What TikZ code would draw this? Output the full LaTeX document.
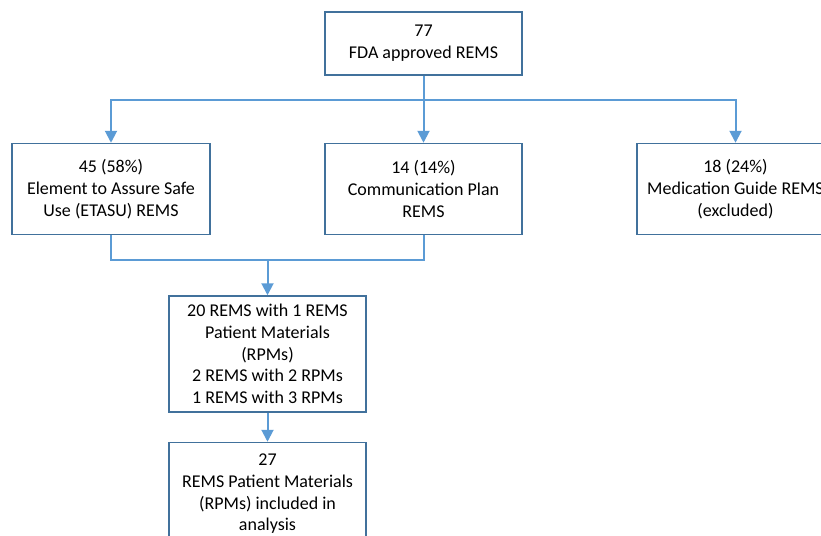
\documentclass[tikz,border=0pt]{standalone}
\usepackage{fontspec}
\setmainfont{Carlito}
\usepackage{tikz}
\usetikzlibrary{arrows.meta,positioning,calc}
\definecolor{boxline}{HTML}{41719C}
\definecolor{linkline}{HTML}{5B9BD5}
\tikzset{
remsbox/.style={draw=boxline,line width=1.5pt,fill=white,align=center,inner sep=0pt,
  minimum width=197pt,font=\fontsize{18}{21.7}\selectfont},
link/.style={draw=linkline,line width=2pt},
arrowlink/.style={link,-{Triangle[width=12pt,length=12pt]}}
}
\begin{document}
\begin{tikzpicture}[x=1pt,y=-1pt]
\useasboundingbox (0,0) rectangle (821,535);
\node[remsbox,minimum height=63pt] (fda) at (423.5,43.5) {77\\FDA approved REMS};
\node[remsbox,minimum height=91pt,minimum width=198pt] (etasu) at (111,189) {45 (58\%)\\Element to Assure Safe\\Use (ETASU) REMS};
\node[remsbox,minimum height=91pt] (comm) at (423.5,189) {14 (14\%)\\Communication Plan\\REMS};
\node[remsbox,minimum height=91pt] (medg) at (735.5,189) {18 (24\%)\\Medication Guide REMS\\(excluded)};
\node[remsbox,minimum height=116pt] (rpmcount) at (267.5,354) {20 REMS with 1 REMS\\Patient Materials\\(RPMs)\\2 REMS with 2 RPMs\\1 REMS with 3 RPMs};
\node[remsbox,minimum height=103pt] (final) at (267.5,494) {27\\REMS Patient Materials\\(RPMs) included in\\analysis};
\coordinate (split) at (423.5,100);
\coordinate (join) at (267.5,260);
\draw[arrowlink] (fda.south) -- (comm.north);
\draw[arrowlink] (split) -| (etasu.north);
\draw[arrowlink] (split) -| (medg.north);
\draw[link] (etasu.south) |- (join) -| (comm.south);
\draw[arrowlink] (join) -- (rpmcount.north);
\draw[arrowlink] (rpmcount.south) -- (final.north);
\end{tikzpicture}
\end{document}
